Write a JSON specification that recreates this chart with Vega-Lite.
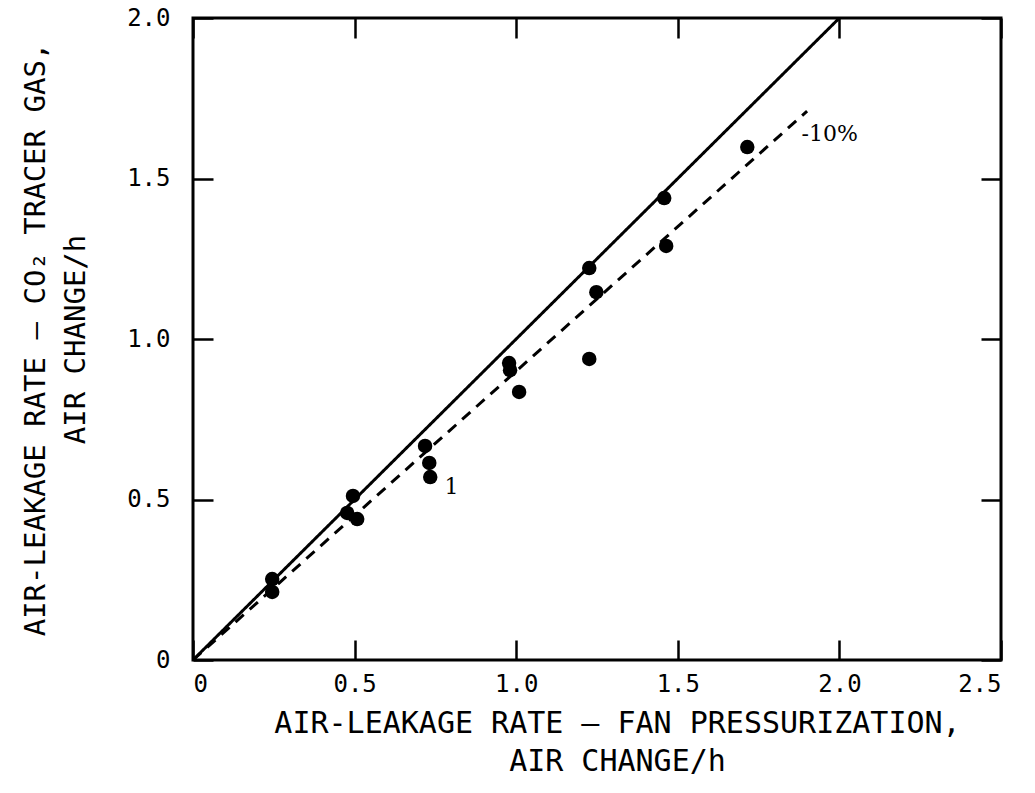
{
  "$schema": "https://vega.github.io/schema/vega-lite/v6.json",
  "autosize": {"type": "none"},
  "width": 808,
  "height": 642,
  "padding": {"left": 193, "top": 18, "right": 34, "bottom": 133},
  "background": "white",
  "config": {
    "view": {"stroke": "black", "strokeWidth": 3},
    "axis": {"grid": false, "domain": false, "ticks": true, "tickColor": "black", "tickWidth": 2.5, "tickSize": -20,
             "labelFont": "DejaVu Sans Mono", "labelFontSize": 24, "labelColor": "black",
             "titleFont": "DejaVu Sans Mono", "titleFontSize": 29, "titleFontWeight": "normal", "titleColor": "black"}
  },
  "datasets": {
    "pts": [
      {"x": 0.245, "y": 0.252}, {"x": 0.245, "y": 0.212},
      {"x": 0.495, "y": 0.511}, {"x": 0.477, "y": 0.458}, {"x": 0.508, "y": 0.439},
      {"x": 0.718, "y": 0.667}, {"x": 0.731, "y": 0.614}, {"x": 0.734, "y": 0.570},
      {"x": 0.978, "y": 0.925}, {"x": 0.981, "y": 0.903}, {"x": 1.009, "y": 0.835},
      {"x": 1.226, "y": 1.221}, {"x": 1.248, "y": 1.146}, {"x": 1.226, "y": 0.938},
      {"x": 1.458, "y": 1.439}, {"x": 1.464, "y": 1.290},
      {"x": 1.715, "y": 1.598}
    ],
    "lines": [
      {"x": 0, "y": 0, "line": "equal"}, {"x": 2.0, "y": 2.0, "line": "equal"},
      {"x": 0, "y": 0, "line": "minus10"}, {"x": 1.9, "y": 1.71, "line": "minus10"}
    ],
    "labels": [
      {"x": 1.97, "y": 1.64, "label": "-10%"},
      {"x": 0.8, "y": 0.54, "label": "1"}
    ]
  },
  "resolve": {"axis": {"x": "independent", "y": "independent"}},
  "layer": [
    {
      "data": {"name": "pts"},
      "mark": {"type": "point", "filled": true, "color": "black", "opacity": 1, "size": 210},
      "encoding": {
        "x": {"field": "x", "type": "quantitative", "scale": {"domain": [0, 2.5], "nice": false, "zero": true},
              "axis": {"values": [0, 0.5, 1, 1.5, 2, 2.5], "labelExpr": "datum.value == 0 ? '0' : format(datum.value, '.1f')", "labelPadding": 32,
                       "title": ["AIR-LEAKAGE RATE — FAN PRESSURIZATION,", "AIR CHANGE/h"], "titlePadding": 12, "titleLineHeight": 38, "titleFontSize": 30,
                       "titleX": 424, "titleAlign": "center"}},
        "y": {"field": "y", "type": "quantitative", "scale": {"domain": [0, 2.0], "nice": false},
              "axis": {"values": [0, 0.5, 1, 1.5, 2], "labelExpr": "datum.value == 0 ? '0' : format(datum.value, '.1f')", "labelPadding": 43,
                       "title": ["AIR-LEAKAGE RATE — CO₂ TRACER GAS,", "AIR CHANGE/h"], "titlePadding": 36, "titleLineHeight": 40}}
      }
    },
    {
      "data": {"name": "lines"},
      "mark": {"type": "line", "color": "black", "strokeWidth": 3},
      "encoding": {
        "x": {"field": "x", "type": "quantitative", "axis": {"orient": "top", "values": [0, 0.5, 1, 1.5, 2, 2.5], "labels": false, "title": null}},
        "y": {"field": "y", "type": "quantitative", "axis": {"orient": "right", "values": [0, 0.5, 1, 1.5, 2], "labels": false, "title": null}},
        "detail": {"field": "line"},
        "strokeDash": {"field": "line", "type": "nominal", "scale": {"domain": ["equal", "minus10"], "range": [[1, 0], [11, 8]]}, "legend": null}
      }
    },
    {
      "data": {"name": "labels"},
      "mark": {"type": "text", "font": "DejaVu Serif", "fontSize": 22, "color": "black", "align": "center", "baseline": "middle"},
      "encoding": {
        "x": {"field": "x", "type": "quantitative", "axis": null},
        "y": {"field": "y", "type": "quantitative", "axis": null},
        "text": {"field": "label"}
      }
    }
  ]
}
